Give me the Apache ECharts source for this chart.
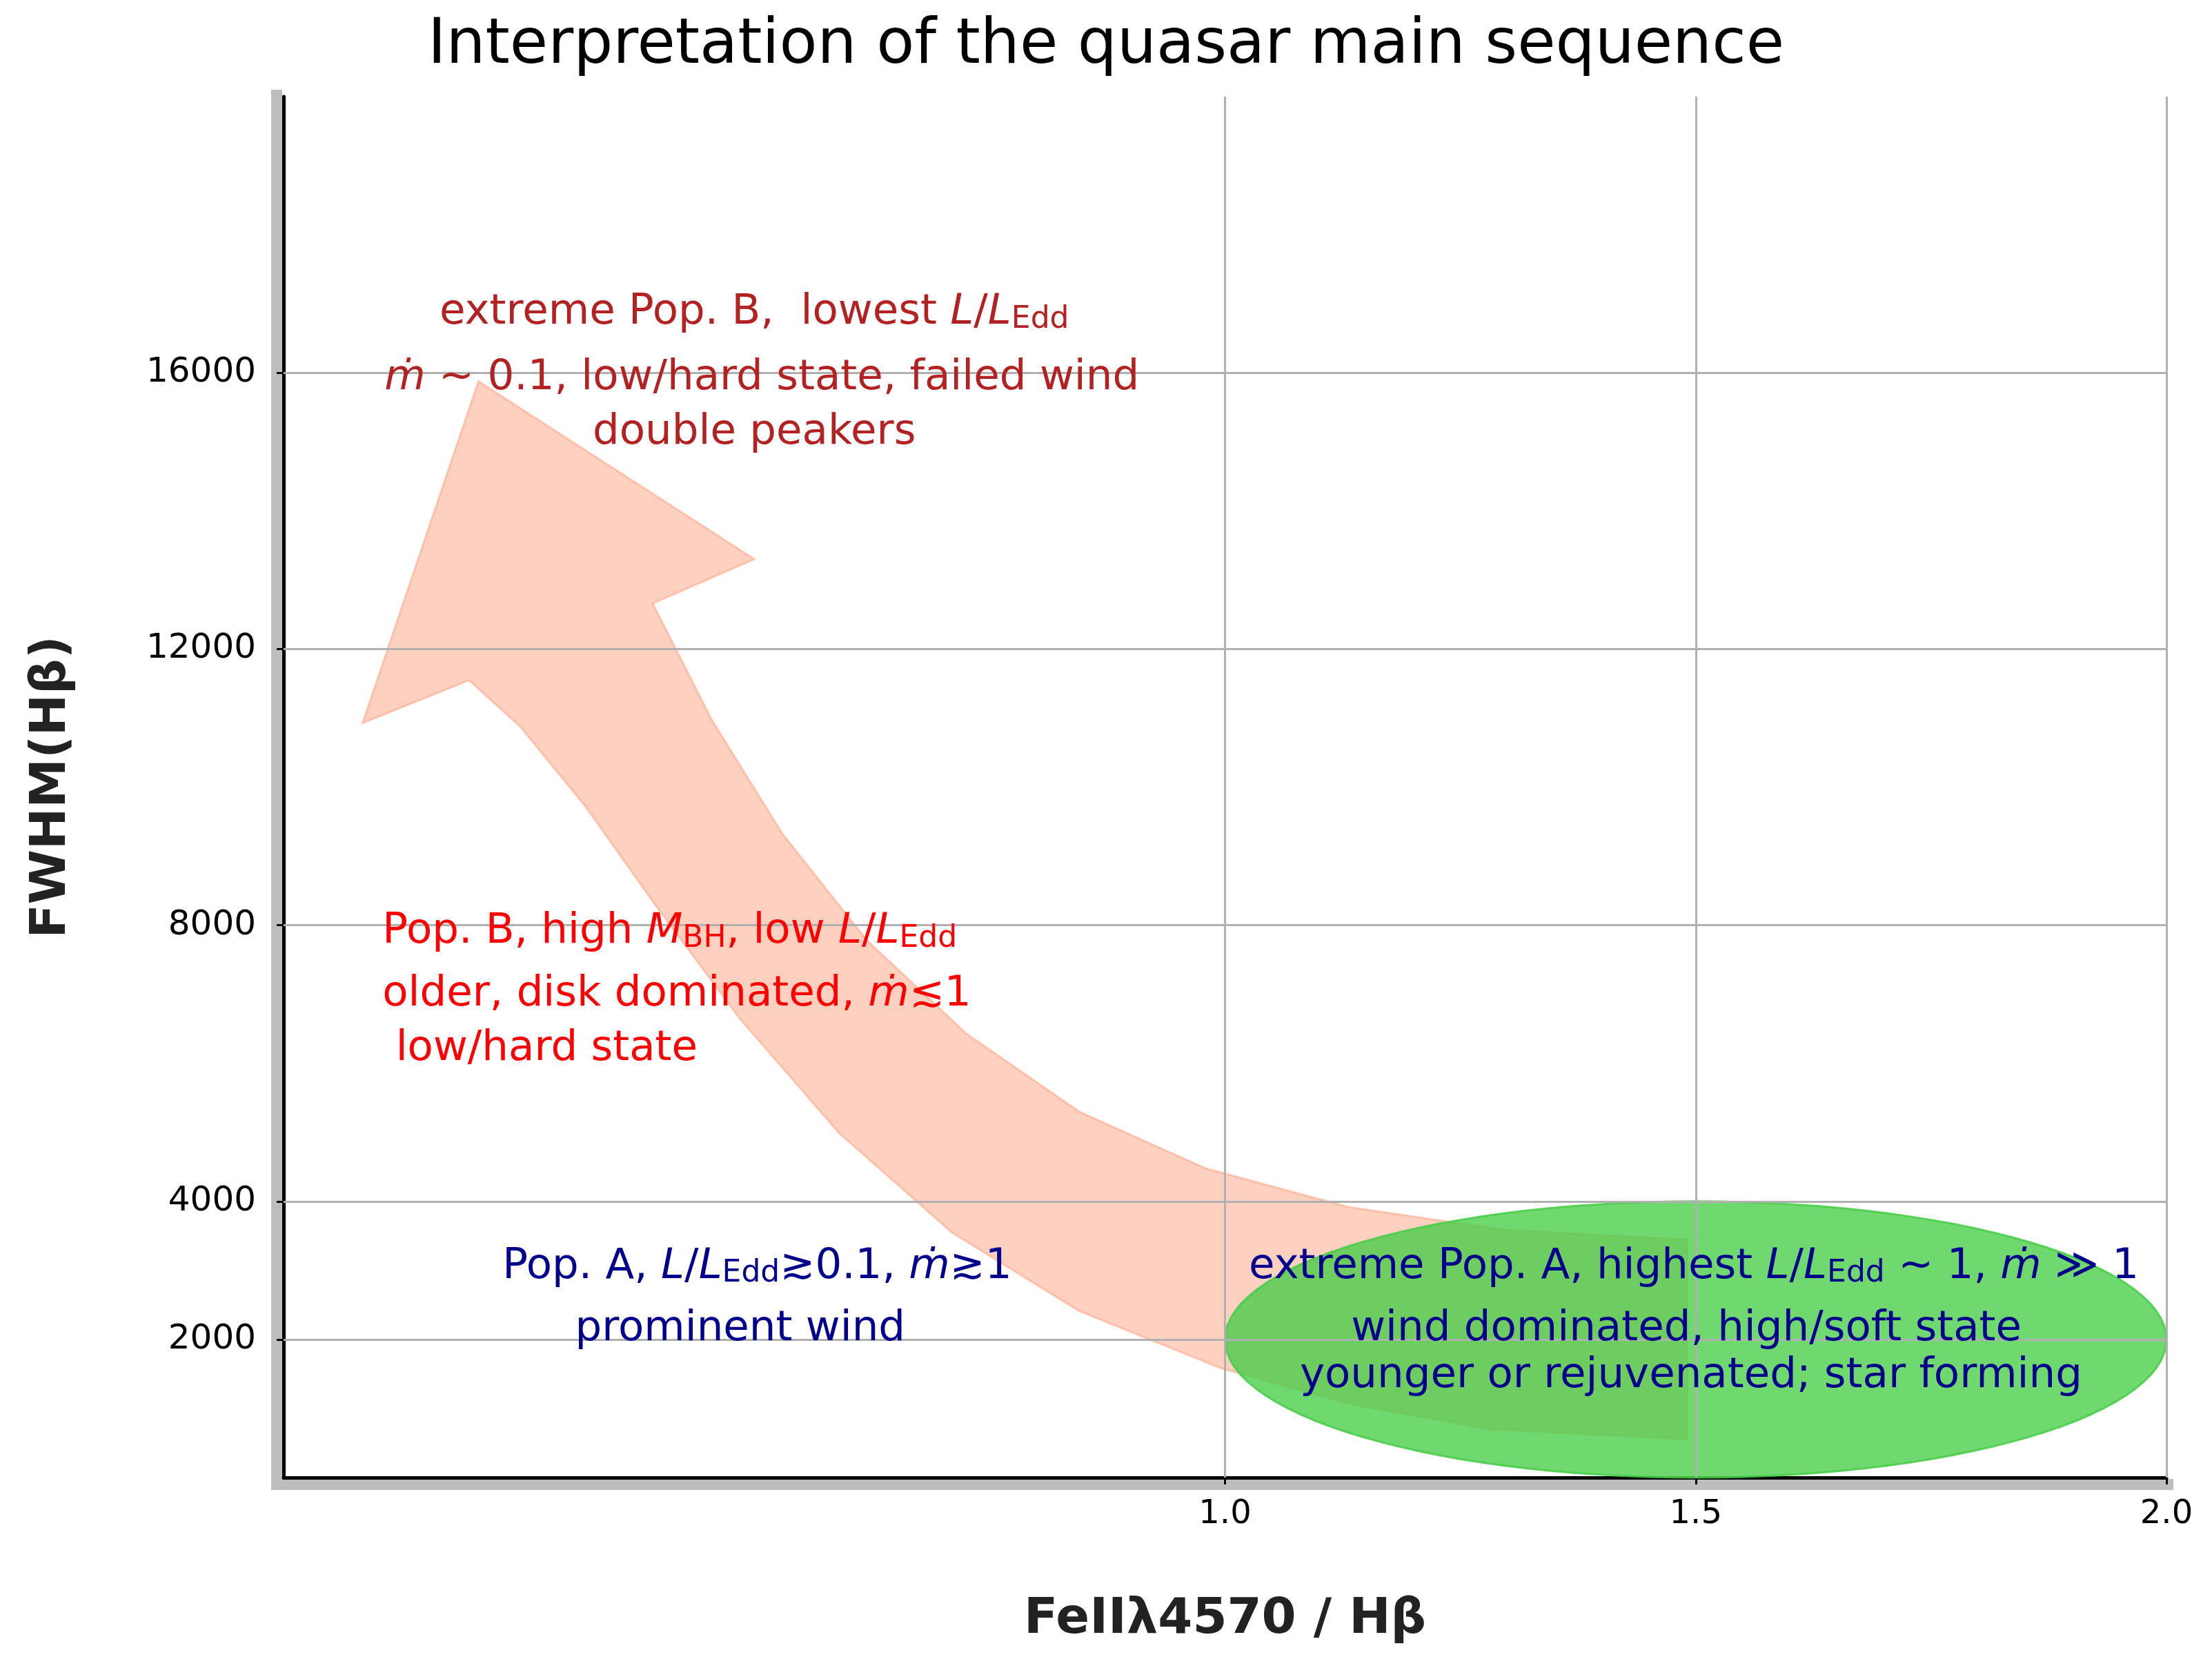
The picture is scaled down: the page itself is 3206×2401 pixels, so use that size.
<!DOCTYPE html>
<html>
<head>
<meta charset="utf-8">
<script src="https://cdn.jsdelivr.net/npm/echarts@6/dist/echarts.min.js"></script>
<style>html,body{margin:0;background:#fff}#main{width:3206px;height:2401px}</style>
</head>
<body>
<div id="main"></div>
<script>
// tick values that carry labels / grid lines
const xTicks = [1.0, 1.5, 2.0]
const yTicks = [2000, 4000, 8000, 12000, 16000]

// arrow outline (data coords): outer edge, head, inner edge
const arrowX = [1.491, 1.281, 1.131, 0.995, 0.845, 0.710, 0.590, 0.485, 0.395, 0.320, 0.252, 0.197,
  0.084, 0.207, 0.5, 0.392,
  0.455, 0.530, 0.620, 0.725, 0.845, 0.980, 1.131, 1.296, 1.491]
const arrowY = [557, 701, 1072, 1588, 2413, 3547, 4990, 6640, 8289, 9733, 10867, 11547,
  10928, 15877, 13300, 12660,
  10970, 9320, 7774, 6433, 5299, 4475, 3918, 3588, 3444]

// green ellipse: centre, half width, half height
const ellipse = { cx: 1.5, cy: 2000, rx: 0.5, ry: 2000 }

// annotation lines: x, y (data), align, colour, text
const notes = [
  [0.5, 16870, 'center', '#b22222', 'extreme Pop. B,  lowest {i|L}/{i|L}{s|Edd}'],
  [0.508, 15920, 'center', '#b22222', '{i|ṁ} ~ 0.1, low/hard state, failed wind'],
  [0.5, 15135, 'center', '#b22222', 'double peakers'],
  [0.105, 7900, 'left', '#ff0000', 'Pop. B, high {i|M}{s|BH}, low {i|L}/{i|L}{s|Edd}'],
  [0.105, 6990, 'left', '#ff0000', 'older, disk dominated, {i|ṁ}≲1'],
  [0.105, 6210, 'left', '#ff0000', ' low/hard state'],
  [0.503, 3050, 'center', '#00008b', 'Pop. A, {i|L}/{i|L}{s|Edd}≳0.1, {i|ṁ}≳1'],
  [0.485, 2150, 'center', '#00008b', 'prominent wind'],
  [1.498, 3050, 'center', '#00008b', 'extreme Pop. A, highest {i|L}/{i|L}{s|Edd} ~ 1, {i|ṁ} ≫ 1'],
  [1.49, 2150, 'center', '#00008b', 'wind dominated, high/soft state'],
  [1.495, 1470, 'center', '#00008b', 'younger or rejuvenated; star forming']
]

const FONT = 'DejaVu Sans'
const chart = echarts.init(document.getElementById('main'))

const arrowData = arrowX.map((x, i) => [x, arrowY[i]])

chart.setOption({
  animation: false,
  title: {
    text: 'Interpretation of the quasar main sequence',
    left: 'center', top: 18,
    textStyle: { fontFamily: FONT, fontSize: 90, fontWeight: 'normal', color: '#000' }
  },
  grid: { left: 411, right: 66, top: 140, bottom: 260 },
  xAxis: {
    type: 'value', min: 0, max: 2, interval: 0.5,
    name: 'FeIIλ4570 / Hβ', nameLocation: 'middle', nameGap: 170,
    nameTextStyle: { fontFamily: FONT, fontSize: 72, fontWeight: 'bold', color: '#222' },
    axisLine: { lineStyle: { color: '#000', width: 5 } },
    axisTick: { customValues: xTicks, length: 10, lineStyle: { color: '#000', width: 3 } },
    axisLabel: { customValues: xTicks, formatter: v => v.toFixed(1), fontFamily: FONT, fontSize: 48, color: '#000', margin: 30 },
    splitLine: { show: false }
  },
  yAxis: {
    type: 'value', min: 0, max: 20000, interval: 2000,
    name: 'FWHM(Hβ)', nameLocation: 'middle', nameGap: 300, nameRotate: 90,
    nameTextStyle: { fontFamily: FONT, fontSize: 72, fontWeight: 'bold', color: '#222' },
    axisLine: { lineStyle: { color: '#000', width: 5 } },
    axisTick: { customValues: yTicks, length: 10, lineStyle: { color: '#000', width: 3 } },
    axisLabel: { customValues: yTicks, formatter: v => String(v), fontFamily: FONT, fontSize: 50, color: '#000', margin: 40 },
    splitLine: { show: false }
  },
  series: [
    {
      type: 'line', data: [], silent: true,
      markLine: {
        symbol: 'none', silent: true, label: { show: false },
        lineStyle: { color: '#b0b0b0', width: 3, type: 'solid' },
        data: xTicks.map(v => ({ xAxis: v })).concat(yTicks.map(v => ({ yAxis: v })))
      }
    },
    {
      // curved arrow
      type: 'custom', silent: true, z: 3,
      data: [0],
      renderItem: (params, api) => ({
        type: 'polygon',
        shape: { points: arrowData.map(p => api.coord(p)) },
        style: { fill: 'rgba(251,170,140,0.55)', stroke: 'rgba(251,170,140,0.6)', lineWidth: 3 }
      })
    },
    {
      // green ellipse
      type: 'custom', silent: true, z: 4,
      data: [0],
      renderItem: (params, api) => {
        const pts = []
        for (let k = 0; k < 120; k++) {
          const t = k / 120 * Math.PI * 2
          pts.push(api.coord([ellipse.cx + ellipse.rx * Math.cos(t), ellipse.cy + ellipse.ry * Math.sin(t)]))
        }
        return {
          type: 'polygon', shape: { points: pts },
          style: { fill: 'rgba(70,205,70,0.78)', stroke: 'rgba(70,205,70,0.85)', lineWidth: 3 }
        }
      }
    },
    {
      // annotations
      type: 'custom', silent: true, z: 10,
      data: notes.map(n => [n[0], n[1]]),
      renderItem: (params, api) => {
        const n = notes[params.dataIndex]
        const p = api.coord([n[0], n[1]])
        return {
          type: 'text', x: p[0], y: p[1], z2: 10,
          style: {
            text: n[4], fill: n[3], align: n[2], verticalAlign: 'middle',
            font: '61px "DejaVu Sans"',
            rich: {
              i: { fontStyle: 'italic', fontSize: 61, fontFamily: FONT, fill: n[3] },
              s: { fontSize: 44, fontFamily: FONT, fill: n[3], padding: [20, 0, 0, 0] }
            }
          }
        }
      }
    }
  ]
})

// gray bands along the axes
const o = chart.convertToPixel({ gridIndex: 0 }, [0, 0])
const e = chart.convertToPixel({ gridIndex: 0 }, [2, 20000])
chart.setOption({
  graphic: [
    { type: 'rect', z: -1, shape: { x: o[0] - 18, y: e[1] - 10, width: 16, height: o[1] - e[1] + 28 }, style: { fill: '#bdbdbd' } },
    { type: 'rect', z: -1, shape: { x: o[0] - 18, y: o[1] + 2, width: e[0] - o[0] + 28, height: 16 }, style: { fill: '#bdbdbd' } }
  ]
})
</script>
</body>
</html>
